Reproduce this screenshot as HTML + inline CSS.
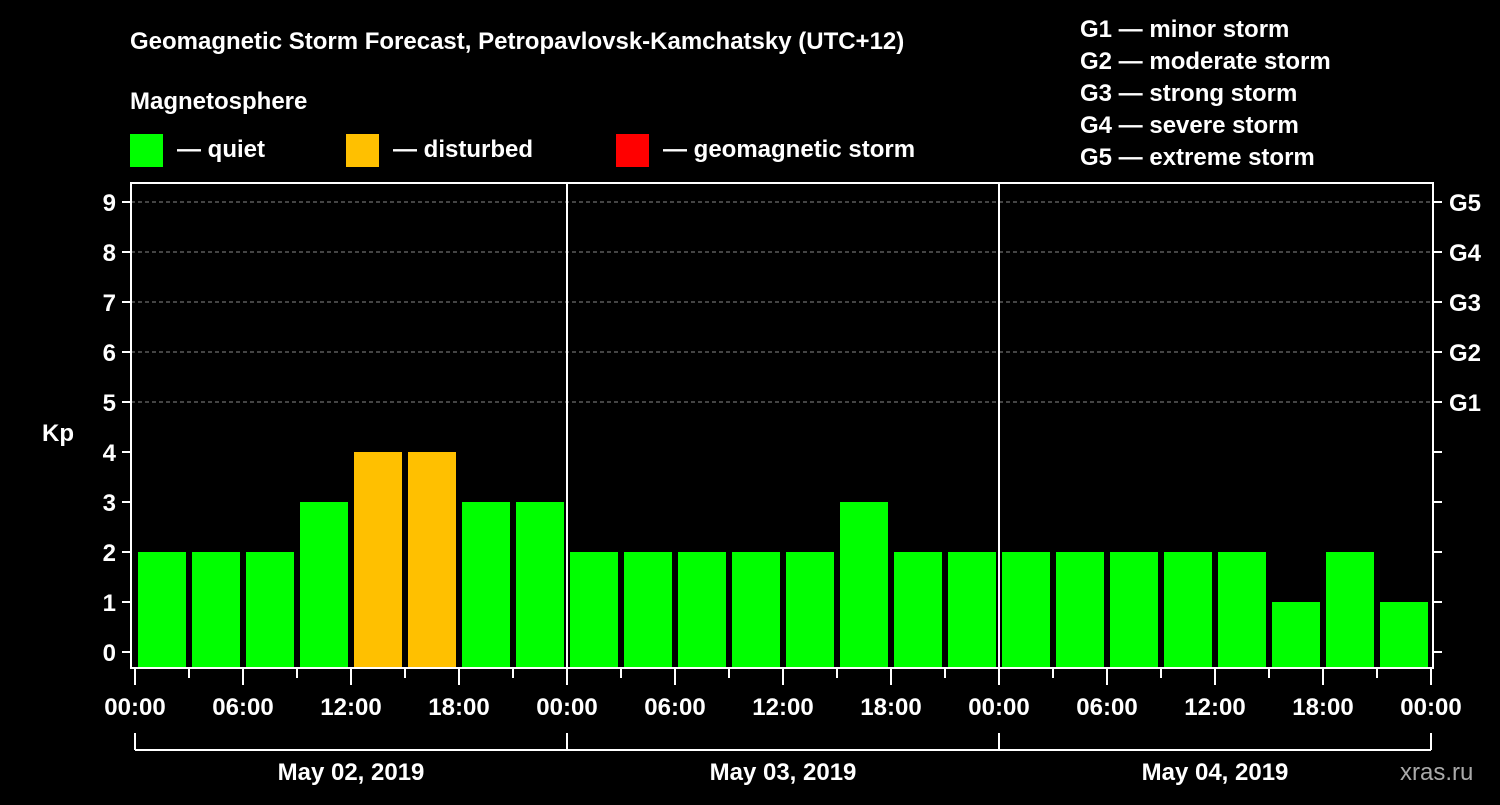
<!DOCTYPE html>
<html><head><meta charset="utf-8"><style>
body{margin:0;background:#000;width:1500px;height:800px;overflow:hidden}
svg text{font-family:"Liberation Sans",sans-serif;font-weight:bold;fill:#fff}
</style></head><body>
<svg id="c" width="1500" height="800">
<text x="130" y="49" font-size="24">Geomagnetic Storm Forecast, Petropavlovsk-Kamchatsky (UTC+12)</text>
<text x="130" y="109" font-size="24">Magnetosphere</text>
<rect x="130" y="134" width="33" height="33" fill="#00ff00"/>
<text x="177" y="157" font-size="24">— quiet</text>
<rect x="346" y="134" width="33" height="33" fill="#ffc000"/>
<text x="393" y="157" font-size="24">— disturbed</text>
<rect x="616" y="134" width="33" height="33" fill="#ff0000"/>
<text x="663" y="157" font-size="24">— geomagnetic storm</text>
<g font-size="24">
<text x="1080" y="37">G1 — minor storm</text>
<text x="1080" y="69">G2 — moderate storm</text>
<text x="1080" y="101">G3 — strong storm</text>
<text x="1080" y="133">G4 — severe storm</text>
<text x="1080" y="165">G5 — extreme storm</text>
</g>
<text x="42" y="441" font-size="24">Kp</text>
<text x="1400" y="780" font-size="24" fill="#aaa" style="fill:#aaa;font-weight:normal">xras.ru</text>
<g id="g"></g>
</svg>
<script>
const kpValues=[2,2,2,3,4,4,3,3, 2,2,2,2,2,3,2,2, 2,2,2,2,2,1,2,1];
const dayLabels=["May 02, 2019","May 03, 2019","May 04, 2019"];
const hourLabels=["00:00","06:00","12:00","18:00"];
const gLabels=["G1","G2","G3","G4","G5"];
const NS="http://www.w3.org/2000/svg",g=document.getElementById('g');
const X0=135,DAY=432,L=131,R=1433,T=183,B=668;
const xs=i=>X0+i*54; const y=v=>652-50*v;
function mk(t,a,txt){const e=document.createElementNS(NS,t);for(const k in a)e.setAttribute(k,a[k]);if(txt!=null)e.textContent=txt;g.appendChild(e);return e;}
for(let v=5;v<=9;v++){const e=mk('line',{x1:L,x2:R,y1:y(v),y2:y(v),stroke:'#888','stroke-dasharray':'4,3'});

}
kpValues.forEach((v,i)=>{const c=v>=5?'#ff0000':v>=4?'#ffc000':'#00ff00';
const e=mk('rect',{x:xs(i)+3,y:y(v),width:48,height:B-y(v),fill:c});

});
[1,2].forEach(d=>{const e=mk('line',{x1:X0+d*DAY,x2:X0+d*DAY,y1:T,y2:B,stroke:'#fff','stroke-width':2});

});
const f=mk('rect',{x:L,y:T,width:R-L,height:B-T,fill:'none',stroke:'#fff','stroke-width':2});


for(let v=0;v<=9;v++){mk('line',{x1:L-9,x2:L,y1:y(v),y2:y(v),stroke:'#fff','stroke-width':2});
mk('line',{x1:R,x2:R+9,y1:y(v),y2:y(v),stroke:'#fff','stroke-width':2});
const t=mk('text',{x:116,y:y(v)+9,'font-size':24,'text-anchor':'end'},String(v));

}
gLabels.forEach((s,i)=>{const t=mk('text',{x:1449,y:y(i+5)+9,'font-size':24},s);

});
for(let i=0;i<=24;i++){const maj=i%2==0;mk('line',{x1:xs(i),x2:xs(i),y1:B+1,y2:maj?685:678,stroke:'#fff','stroke-width':2});
if(maj){const t=mk('text',{x:xs(i),y:715,'font-size':24,'text-anchor':'middle'},hourLabels[(i/2)%4]);

}}
mk('line',{x1:X0,x2:X0+3*DAY,y1:750,y2:750,stroke:'#fff','stroke-width':2});
for(let d=0;d<=3;d++)mk('line',{x1:X0+d*DAY,x2:X0+d*DAY,y1:733,y2:750,stroke:'#fff','stroke-width':2});
dayLabels.forEach((s,d)=>{const t=mk('text',{x:X0+d*DAY+DAY/2,y:780,'font-size':24,'text-anchor':'middle'},s);

});
</script>
</body></html>
